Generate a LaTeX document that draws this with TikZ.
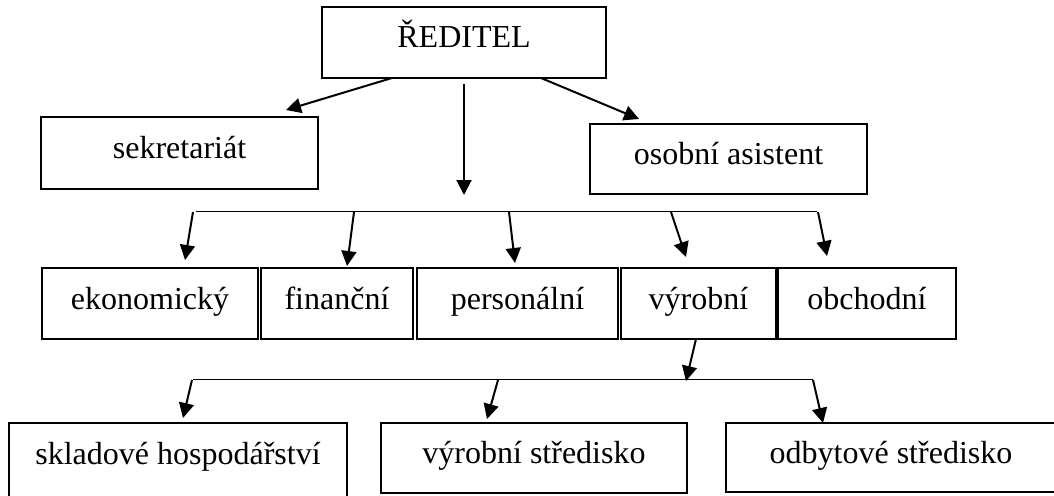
\documentclass[tikz,border=0pt]{standalone}
\usepackage{fontspec}
\setmainfont{Liberation Serif}
\usetikzlibrary{arrows.meta}
\begin{document}
\begin{tikzpicture}[x=1pt,y=-1pt,
  box/.style={draw, line width=2pt, inner sep=0pt, text height=21pt, text depth=10pt,
    font=\fontsize{32}{36}\selectfont},
  arr/.style={line width=2pt, -{Triangle[length=15pt,width=15pt]}},
  bar/.style={line width=1pt}]
\useasboundingbox (0,0) rectangle (1054,495);
\clip (0,0) rectangle (1054,495);
% boxes
\node[box, minimum width=284pt, minimum height=71pt] (red) at (464,42.5) {ŘEDITEL};
\node[box, minimum width=277pt, minimum height=72pt] (sek) at (179.5,153) {sekretariát};
\node[box, minimum width=277pt, minimum height=70pt] (osa) at (728.5,159) {osobní asistent};
\node[box, minimum width=216pt, minimum height=71pt] (eko) at (150,303.5) {ekonomický};
\node[box, minimum width=152pt, minimum height=71pt] (fin) at (337,303.5) {finanční};
\node[box, minimum width=201pt, minimum height=71pt] (per) at (517.5,303.5) {personální};
\node[box, minimum width=155pt, minimum height=71pt] (vyr) at (698.5,303.5) {výrobní};
\node[box, minimum width=178pt, minimum height=71pt] (obc) at (867,303.5) {obchodní};
\node[box, minimum width=338pt, minimum height=80pt, text depth=18pt] (skl) at (178,463) {skladové hospodářství};
\node[box, minimum width=306pt, minimum height=70pt] (vst) at (534,458) {výrobní středisko};
\node[box, minimum width=330pt, minimum height=69pt] (ods) at (891,457.5) {odbytové středisko};
% bars
\coordinate (b1l) at (196,211);
\coordinate (b1r) at (817,211);
\coordinate (b2l) at (193,379);
\coordinate (b2r) at (813,379);
\draw[bar] (b1l) -- (b1r);
\draw[bar] (b2l) -- (b2r);
% arrow ends
\coordinate (rs) at (392,78);
\coordinate (sekt) at (286,110);
\coordinate (ro) at (541,78);
\coordinate (osat) at (639,119);
\coordinate (rc) at (464,84);
\coordinate (b1t) at (464,195);
\coordinate (e1) at (193,212);  \coordinate (e2) at (185,260);
\coordinate (f1) at (354,212);  \coordinate (f2) at (347,266);
\coordinate (p1) at (509,212);  \coordinate (p2) at (515,263);
\coordinate (v1) at (671,212);  \coordinate (v2) at (686,257);
\coordinate (o1) at (818,212);  \coordinate (o2) at (827,256);
\coordinate (vb) at (696,339);  \coordinate (b2t) at (686,381);
\coordinate (s1) at (192,380);  \coordinate (s2) at (183,418);
\coordinate (m1) at (498,380);  \coordinate (m2) at (487,419);
\coordinate (d1) at (813,380);  \coordinate (d2) at (823,423);
\draw[arr] (rs) -- (sekt);
\draw[arr] (ro) -- (osat);
\draw[arr] (rc) -- (b1t);
\draw[arr] (e1) -- (e2);
\draw[arr] (f1) -- (f2);
\draw[arr] (p1) -- (p2);
\draw[arr] (v1) -- (v2);
\draw[arr] (o1) -- (o2);
\draw[arr] (vb) -- (b2t);
\draw[arr] (s1) -- (s2);
\draw[arr] (m1) -- (m2);
\draw[arr] (d1) -- (d2);
\end{tikzpicture}
\end{document}
